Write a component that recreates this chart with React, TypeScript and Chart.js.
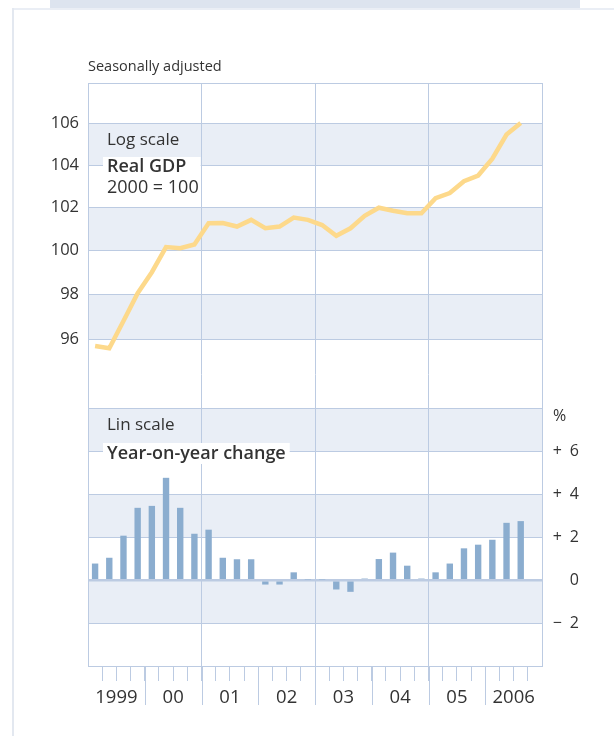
import React, { useEffect, useRef } from "react";
import { Chart, registerables } from "chart.js";

Chart.register(...registerables);

// ---- data ----
const yearLabels = ["1999", "00", "01", "02", "03", "04", "05", "2006"];
const quarterLabels = [
  "1999Q1", "1999Q2", "1999Q3", "1999Q4", "2000Q1", "2000Q2", "2000Q3", "2000Q4",
  "2001Q1", "2001Q2", "2001Q3", "2001Q4", "2002Q1", "2002Q2", "2002Q3", "2002Q4",
  "2003Q1", "2003Q2", "2003Q3", "2003Q4", "2004Q1", "2004Q2", "2004Q3", "2004Q4",
  "2005Q1", "2005Q2", "2005Q3", "2005Q4", "2006Q1", "2006Q2", "2006Q3",
];
const realGdp = [
  95.7, 95.6, 96.8, 98.05, 99.0, 100.15, 100.1, 100.27,
  101.25, 101.26, 101.1, 101.41, 101.02, 101.1, 101.52, 101.41,
  101.17, 100.67, 101.02, 101.6, 101.98, 101.84, 101.72, 101.72,
  102.43, 102.67, 103.23, 103.5, 104.31, 105.47, 106.03,
];
const yoyChange = [
  0.78, 1.05, 2.08, 3.38, 3.47, 4.78, 3.38, 2.17,
  2.36, 1.05, 0.98, 0.98, -0.2, -0.2, 0.37, 0.04,
  0.04, -0.43, -0.54, 0.08, 0.99, 1.29, 0.68, 0.08,
  0.37, 0.78, 1.49, 1.66, 1.89, 2.68, 2.76,
];
const logTicks = [96, 98, 100, 102, 104, 106];
const linTicks = [-4, -2, 0, 2, 4, 6, 8];
const logBands = [[104, 106], [100, 102], [96, 98]];
const linBands = [[6, 8], [2, 4], [-2, 0]];
const logRange = [82.6, 108.0];
const linRange = [-4, 23.2];

// ---- styles ----
const GRID = "#bccbe2";
const BAND = "#e9eef6";
const TEXT = "#333333";
const LINE = "#fdd98b";
const BAR = "#8badcf";
const FONT = "'Open Sans', 'Noto Sans', sans-serif";

const annotations = {
  id: "annotations",
  beforeDraw(chart: any) {
    const { ctx, chartArea: ca, scales } = chart;
    ctx.save();
    ctx.fillStyle = BAND;
    for (const [a, b] of logBands) {
      const top = scales.y.getPixelForValue(b);
      const bot = scales.y.getPixelForValue(a);
      ctx.fillRect(ca.left, top, ca.right - ca.left, bot - top);
    }
    for (const [a, b] of linBands) {
      const top = scales.y2.getPixelForValue(b);
      const bot = scales.y2.getPixelForValue(a);
      ctx.fillRect(ca.left, top, ca.right - ca.left, bot - top);
    }
    ctx.restore();
  },
  afterDraw(chart: any) {
    const { ctx, chartArea: ca, scales } = chart;
    ctx.save();
    // top border
    ctx.strokeStyle = GRID;
    ctx.lineWidth = 1;
    ctx.beginPath();
    ctx.moveTo(ca.left, ca.top + 0.5);
    ctx.lineTo(ca.right, ca.top + 0.5);
    ctx.stroke();
    // year boundary ticks
    for (let k = 1; k < yearLabels.length; k++) {
      const x = Math.round(scales.x.getPixelForValue(k * 4)) + 0.5;
      ctx.beginPath();
      ctx.moveTo(x, ca.bottom);
      ctx.lineTo(x, ca.bottom + 39);
      ctx.stroke();
    }
    ctx.fillStyle = TEXT;
    ctx.textBaseline = "middle";
    // year labels
    ctx.textAlign = "center";
    ctx.font = `18.5px ${FONT}`;
    yearLabels.forEach((lab, k) => {
      ctx.fillText(lab, scales.x.getPixelForValue(k * 4 + 2), ca.bottom + 32);
    });
    ctx.textAlign = "left";
    // subtitle
    ctx.font = `14.5px ${FONT}`;
    ctx.fillText("Seasonally adjusted", ca.left, ca.top - 16);
    // top panel labels
    const lx = ca.left + 19;
    ctx.font = `17px ${FONT}`;
    ctx.fillText("Log scale", lx, 140);
    ctx.font = `600 18px ${FONT}`;
    const w1 = ctx.measureText("Real GDP").width;
    ctx.font = `18px ${FONT}`;
    const w2 = ctx.measureText("2000 = 100").width;
    ctx.fillStyle = "#ffffff";
    ctx.fillRect(lx - 4, 157, Math.max(w1, w2) + 6, 42);
    ctx.fillStyle = TEXT;
    ctx.font = `600 18px ${FONT}`;
    ctx.fillText("Real GDP", lx, 167);
    ctx.font = `18px ${FONT}`;
    ctx.fillText("2000 = 100", lx, 188);
    // bottom panel labels
    ctx.font = `17px ${FONT}`;
    ctx.fillText("Lin scale", lx, 425);
    ctx.font = `600 18px ${FONT}`;
    const w3 = ctx.measureText("Year-on-year change").width;
    ctx.fillStyle = "#ffffff";
    ctx.fillRect(lx - 4, 443, w3 + 8, 21);
    ctx.fillStyle = TEXT;
    ctx.fillText("Year-on-year change", lx, 454);
    // percent unit
    ctx.font = `16px ${FONT}`;
    ctx.fillText("%", scales.y2.left + 11, scales.y2.getPixelForValue(8) + 8);
    ctx.restore();
  },
};

export default function App() {
  const ref = useRef<HTMLCanvasElement | null>(null);
  useEffect(() => {
    if (!ref.current) return;
    Chart.defaults.font.family = FONT;
    const chart = new Chart(ref.current, {
      type: "bar",
      data: {
        labels: quarterLabels,
        datasets: [
          {
            type: "line",
            label: "Real GDP",
            data: realGdp.map((v, i) => ({ x: i + 0.5, y: v })),
            borderColor: LINE,
            borderWidth: 4.5,
            pointRadius: 0,
            tension: 0,
            yAxisID: "y",
            xAxisID: "x",
          } as any,
          {
            type: "bar",
            label: "Year-on-year change",
            data: yoyChange.map((v, i) => ({ x: i + 0.5, y: v })),
            backgroundColor: BAR,
            borderWidth: 0,
            barPercentage: 0.45,
            categoryPercentage: 1,
            yAxisID: "y2",
            xAxisID: "x",
          } as any,
        ],
      },
      options: {
        responsive: false,
        animation: false,
        devicePixelRatio: 1,
        layout: { padding: { top: 83, left: 0, right: 35, bottom: 0 } },
        plugins: { legend: { display: false }, tooltip: { enabled: false } },
        scales: {
          x: {
            type: "linear",
            position: "bottom",
            offset: false,
            min: 0,
            max: 32,
            afterBuildTicks: (s: any) => {
              const t = [];
              for (let i = 0; i <= 32; i++) t.push({ value: i });
              s.ticks = t;
            },
            afterFit: (s: any) => { s.height = 70; },
            ticks: { display: false },
            grid: {
              offset: false,
              drawTicks: true,
              tickLength: 15,
              color: (c: any) => {
                const v = c.tick ? c.tick.value : -1;
                return v % 8 === 0 && v !== 0 && v !== 32 ? GRID : "rgba(0,0,0,0)";
              },
              tickColor: (c: any) => {
                const v = c.tick ? c.tick.value : -1;
                return v === 0 || v === 32 ? "rgba(0,0,0,0)" : GRID;
              },
            },
            border: { display: true, color: GRID },
          },
          y: {
            type: "logarithmic",
            position: "left",
            min: logRange[0],
            max: logRange[1],
            afterBuildTicks: (s: any) => { s.ticks = logTicks.map((v) => ({ value: v })); },
            afterFit: (s: any) => { s.width = 88; },
            ticks: {
              color: TEXT,
              font: { size: 16.5 },
              padding: 9,
              callback: (v: any) => String(v),
            },
            grid: { color: GRID, drawTicks: false },
            border: { display: true, color: GRID },
          },
          y2: {
            type: "linear",
            position: "right",
            min: linRange[0],
            max: linRange[1],
            afterBuildTicks: (s: any) => { s.ticks = linTicks.map((v) => ({ value: v })); },
            afterFit: (s: any) => { s.width = 37; },
            ticks: {
              color: TEXT,
              font: { size: 16 },
              padding: 11,
              crossAlign: "far",
              callback: (v: any) => {
                if (v === linTicks[0] || v === linTicks[linTicks.length - 1]) return "";
                if (v > 0) return "+\u2002" + v;
                if (v < 0) return "\u2212\u2002" + -v;
                return "0";
              },
            },
            grid: {
              color: GRID,
              drawTicks: false,
              lineWidth: (c: any) => (c.tick && c.tick.value === 0 ? 2.5 : 1),
            },
            border: { display: true, color: GRID },
          },
        },
      } as any,
      plugins: [annotations],
    });
    return () => chart.destroy();
  }, []);

  return (
    <div style={{ position: "absolute", left: 0, top: 0, width: 614, height: 736, background: "#ffffff", overflow: "hidden" }}>
      <div style={{ position: "absolute", left: 50, top: 0, width: 530, height: 8, background: "#dde4ef" }} />
      <div style={{ position: "absolute", left: 12, top: 8, width: 602, height: 2, background: "#eaeef5" }} />
      <div style={{ position: "absolute", left: 12, top: 8, width: 2, height: 728, background: "#e3e8f0" }} />
      <canvas ref={ref} width={614} height={736} style={{ position: "absolute", left: 0, top: 0, width: 614, height: 736 }} />
    </div>
  );
}
